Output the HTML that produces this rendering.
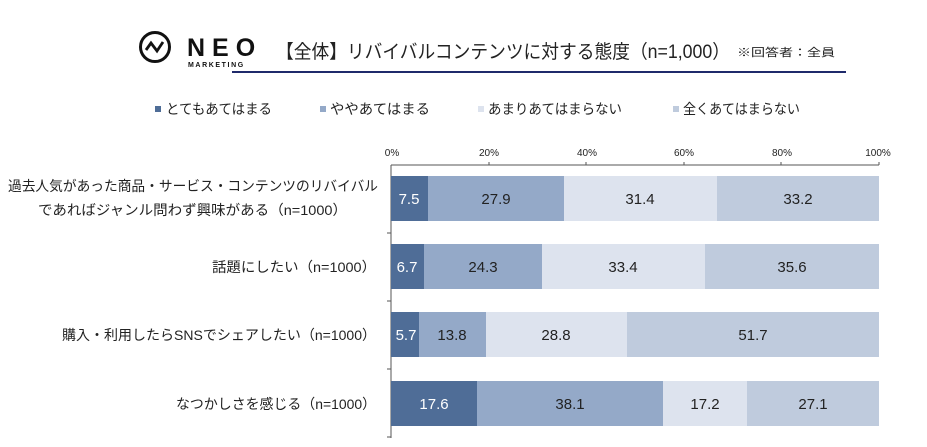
<!DOCTYPE html><html><head><meta charset="utf-8"><style>
body{margin:0;background:#fff;}
svg{display:block;font-family:"Liberation Sans","Noto Sans CJK JP",sans-serif;}
</style></head><body>
<svg width="927" height="447" viewBox="0 0 927 447">
<circle cx="155" cy="47" r="14.5" fill="none" stroke="#111" stroke-width="3"/>
<polyline points="146,50 151,43 157,51 163,42" fill="none" stroke="#111" stroke-width="2.8"/>
<text x="187" y="56" font-size="25" font-weight="bold" fill="#111" letter-spacing="7">NEO</text>
<text x="188" y="67" font-size="7" font-weight="bold" fill="#111" letter-spacing="1.6">MARKETING</text>
<text x="276" y="58" font-size="19" fill="#222" textLength="454" lengthAdjust="spacingAndGlyphs">【全体】リバイバルコンテンツに対する態度（n=1,000）</text>
<text x="737" y="56" font-size="11" fill="#222" textLength="98" lengthAdjust="spacingAndGlyphs">※回答者：全員</text>
<rect x="232" y="71" width="614" height="2" fill="#1f2a6b"/>
<g font-size="14" fill="#222">
<rect x="155" y="106" width="6" height="6" fill="#4f6d97"/><text x="166" y="114" textLength="106" lengthAdjust="spacingAndGlyphs">とてもあてはまる</text>
<rect x="320" y="106" width="6" height="6" fill="#94a9c8"/><text x="330" y="114" textLength="100" lengthAdjust="spacingAndGlyphs">ややあてはまる</text>
<rect x="478" y="106" width="6" height="6" fill="#dde3ee"/><text x="488" y="114" textLength="134" lengthAdjust="spacingAndGlyphs">あまりあてはまらない</text>
<rect x="673" y="106" width="6" height="6" fill="#bfcbdd"/><text x="683" y="114" textLength="117" lengthAdjust="spacingAndGlyphs">全くあてはまらない</text>
</g>
<g font-size="10" fill="#222" text-anchor="middle">
<text x="392" y="156">0%</text><text x="489" y="156">20%</text><text x="587" y="156">40%</text><text x="684" y="156">60%</text><text x="782" y="156">80%</text><text x="878" y="156">100%</text>
</g>
<g stroke="#555" stroke-width="1">
<line x1="391" y1="165" x2="879" y2="165"/><line x1="391" y1="165" x2="391" y2="438"/>
<line x1="489" y1="162" x2="489" y2="165"/><line x1="586" y1="162" x2="586" y2="165"/><line x1="684" y1="162" x2="684" y2="165"/><line x1="781" y1="162" x2="781" y2="165"/><line x1="879" y1="162" x2="879" y2="165"/>
<line x1="387" y1="233" x2="391" y2="233"/><line x1="387" y1="301" x2="391" y2="301"/><line x1="387" y1="369" x2="391" y2="369"/><line x1="387" y1="437" x2="391" y2="437"/>
</g>
<g font-size="15">
<rect x="391" y="176" width="37" height="45" fill="#4f6d97"/><rect x="428" y="176" width="136" height="45" fill="#94a9c8"/><rect x="564" y="176" width="153" height="45" fill="#dde3ee"/><rect x="717" y="176" width="162" height="45" fill="#bfcbdd"/>
<text x="409" y="204" fill="#fff" text-anchor="middle">7.5</text><text x="496" y="204" text-anchor="middle" fill="#222">27.9</text><text x="640" y="204" text-anchor="middle" fill="#222">31.4</text><text x="798" y="204" text-anchor="middle" fill="#222">33.2</text>
<rect x="391" y="244" width="33" height="45" fill="#4f6d97"/><rect x="424" y="244" width="118" height="45" fill="#94a9c8"/><rect x="542" y="244" width="163" height="45" fill="#dde3ee"/><rect x="705" y="244" width="174" height="45" fill="#bfcbdd"/>
<text x="407" y="272" fill="#fff" text-anchor="middle">6.7</text><text x="483" y="272" text-anchor="middle" fill="#222">24.3</text><text x="623" y="272" text-anchor="middle" fill="#222">33.4</text><text x="792" y="272" text-anchor="middle" fill="#222">35.6</text>
<rect x="391" y="312" width="28" height="45" fill="#4f6d97"/><rect x="419" y="312" width="67" height="45" fill="#94a9c8"/><rect x="486" y="312" width="141" height="45" fill="#dde3ee"/><rect x="627" y="312" width="252" height="45" fill="#bfcbdd"/>
<text x="406" y="340" fill="#fff" text-anchor="middle">5.7</text><text x="452" y="340" text-anchor="middle" fill="#222">13.8</text><text x="556" y="340" text-anchor="middle" fill="#222">28.8</text><text x="753" y="340" text-anchor="middle" fill="#222">51.7</text>
<rect x="391" y="381" width="86" height="45" fill="#4f6d97"/><rect x="477" y="381" width="186" height="45" fill="#94a9c8"/><rect x="663" y="381" width="84" height="45" fill="#dde3ee"/><rect x="747" y="381" width="132" height="45" fill="#bfcbdd"/>
<text x="434" y="409" fill="#fff" text-anchor="middle">17.6</text><text x="570" y="409" text-anchor="middle" fill="#222">38.1</text><text x="705" y="409" text-anchor="middle" fill="#222">17.2</text><text x="813" y="409" text-anchor="middle" fill="#222">27.1</text>
</g>
<g font-size="14" fill="#222">
<text x="8" y="191" textLength="370" lengthAdjust="spacingAndGlyphs">過去人気があった商品・サービス・コンテンツのリバイバル</text>
<text x="38" y="215" textLength="309" lengthAdjust="spacingAndGlyphs">であればジャンル問わず興味がある（n=1000）</text>
<text x="212" y="272" textLength="164" lengthAdjust="spacingAndGlyphs">話題にしたい（n=1000）</text>
<text x="62" y="340" textLength="314" lengthAdjust="spacingAndGlyphs">購入・利用したらSNSでシェアしたい（n=1000）</text>
<text x="176" y="409" textLength="200" lengthAdjust="spacingAndGlyphs">なつかしさを感じる（n=1000）</text>
</g>
</svg>
</body></html>
